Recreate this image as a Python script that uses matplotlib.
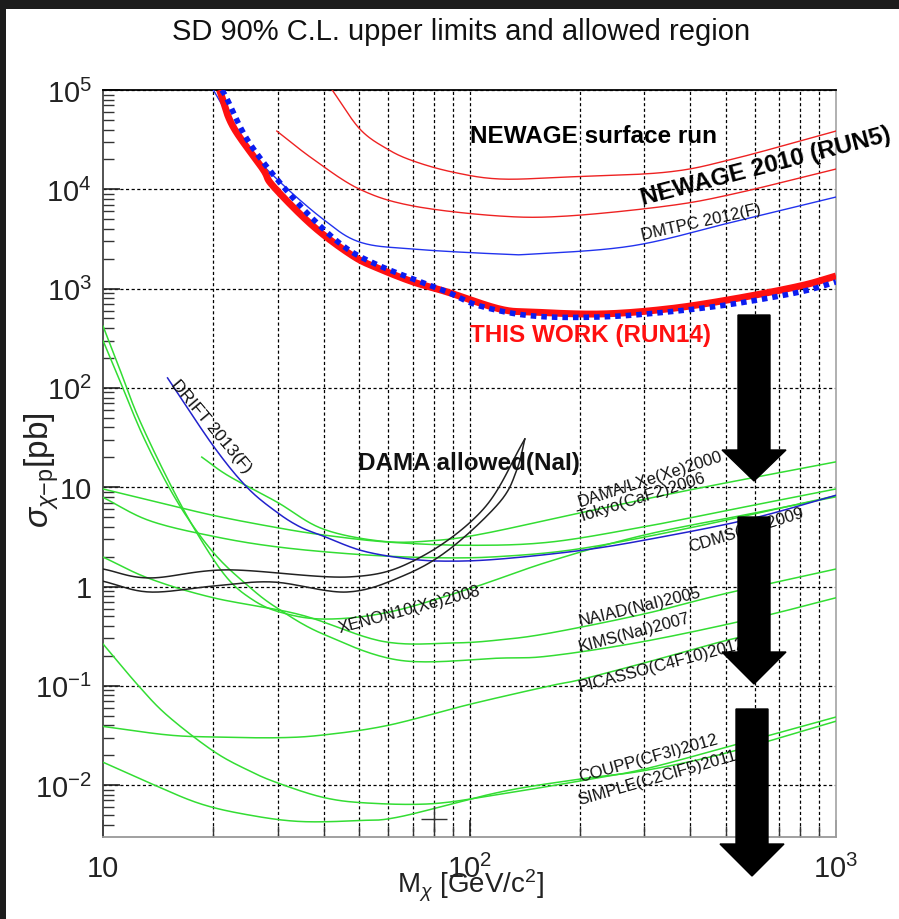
import numpy as np
import matplotlib
matplotlib.use("Agg")
import matplotlib.pyplot as plt
from matplotlib.patches import Rectangle
from matplotlib.ticker import FixedLocator, NullFormatter

plt.rcParams['font.family'] = ['Liberation Sans', 'DejaVu Sans']
plt.rcParams['mathtext.fontset'] = 'custom'
plt.rcParams['mathtext.rm'] = 'Liberation Sans'
plt.rcParams['mathtext.it'] = 'Liberation Sans:italic'

# ---------------- data (mass GeV, cross section pb) ----------------
this_work_x = [20.8, 22.6, 27.3, 29.1, 37.4, 48.1, 57, 70.2, 86.9, 121, 149, 227, 346, 524, 798, 1000]
this_work_y = [1e5, 43300, 16000, 10800, 4270, 2130, 1575, 1166, 925, 623, 581, 555, 623, 785, 1062, 1340]

dotted_x = [21.1, 21.8, 24.7, 29.8, 37.4, 46.4, 57, 70.2, 86.9, 106.8, 149, 227, 346, 524, 798, 1000]
dotted_y = [1e5, 81200, 32100, 12700, 5020, 2510, 1690, 1250, 925, 668, 530, 518, 581, 700, 925, 1165]

newage_surf_x = [42.2, 50.2, 59.6, 70.2, 90, 121, 184.5, 346, 524, 1000]
newage_surf_y = [1e5, 40500, 25500, 19300, 14900, 12700, 13300, 14900, 20200, 38600]

newage2010_x = [29.8, 37.4, 50.2, 70.2, 121, 184.5, 346, 524, 1000]
newage2010_y = [38600, 20200, 10000, 6790, 5380, 5380, 6790, 8970, 16000]

dmtpc_x = [20, 24.7, 29.8, 39.8, 50.2, 70.2, 121, 149, 279, 524, 1000]
dmtpc_y = [1e5, 27300, 12700, 5020, 2940, 2500, 2230, 2230, 2700, 4690, 8360]

drift_x = [15, 20, 24.7, 29.8, 34.5, 39.8, 51.2, 68.9, 88.4, 121, 200, 311, 582, 1000]
drift_y = [126, 26, 10, 5.6, 3.98, 3.23, 2.28, 1.89, 1.80, 1.89, 2.3, 3.0, 4.78, 8.3]

dama_upper_x = [10, 13.4, 21.8, 47.2, 71.9, 109, 141.6]
dama_upper_y = [1.5, 1.22, 1.47, 1.25, 1.89, 6.0, 30.6]
dama_lower_x = [10, 13.4, 20, 29.1, 46.3, 65.9, 88.4, 121, 134.8, 141.6]
dama_lower_y = [1.13, 0.88, 1.01, 1.11, 0.88, 1.28, 2.39, 7.1, 15.2, 30.6]

damalxe_x = [18.6, 22, 29.8, 39.8, 58, 80, 109, 200, 400, 1000]
damalxe_y = [20.1, 13, 7.1, 3.8, 2.85, 2.9, 3.4, 5.5, 9.4, 18]

tokyo_x = [10, 13.4, 20, 30, 40, 60, 100, 166, 300, 500, 1000]
tokyo_y = [9.6, 7.4, 5.2, 3.9, 3.3, 2.8, 2.6, 2.8, 4.0, 5.8, 9.6]

cdms_x = [10, 13.4, 20, 30, 50, 80, 120, 200, 400, 1000]
cdms_y = [7.9, 4.6, 3.2, 2.5, 2.1, 1.95, 2.0, 2.4, 3.9, 8.2]

xenon_x = [10, 11, 12.5, 15.2, 18, 21.5, 25, 30, 40, 60, 100, 166, 300, 600, 1000]
xenon_y = [420, 170, 50, 11, 3.5, 1.3, 0.78, 0.56, 0.47, 0.55, 0.95, 1.8, 3.3, 5.5, 8.0]

kims_x = [10, 11, 13, 16, 20, 25, 30, 40, 65, 121, 166, 300, 600, 1000]
kims_y = [300, 130, 30, 7, 2.2, 1.0, 0.6, 0.33, 0.18, 0.19, 0.2, 0.28, 0.48, 0.77]

naiad_x = [10, 13.4, 20, 34.5, 58, 90, 121, 166, 300, 500, 1000]
naiad_y = [1.98, 1.2, 0.77, 0.52, 0.28, 0.27, 0.29, 0.34, 0.53, 0.85, 1.5]

picasso_x = [10, 15, 20, 30, 40, 60, 100, 166, 200, 300, 490, 600]
picasso_y = [0.039, 0.032, 0.0305, 0.030, 0.032, 0.04, 0.065, 0.1, 0.115, 0.17, 0.28, 0.33]

coupp_x = [10, 12.5, 15, 20, 25, 30, 40, 52.6, 79.4, 121, 200, 300, 500, 1000]
coupp_y = [0.264, 0.1, 0.05, 0.022, 0.014, 0.0105, 0.0075, 0.0066, 0.0065, 0.0081, 0.011, 0.0145, 0.024, 0.0485]

simple_x = [10, 13.4, 18.4, 25, 34.5, 50, 64.6, 121, 200, 300, 500, 1000]
simple_y = [0.017, 0.0105, 0.0065, 0.005, 0.0043, 0.0044, 0.0048, 0.0085, 0.0115, 0.014, 0.021, 0.044]

cross_mark = (80, 0.0046)

# tick labels
x_ticks = [10, 100, 1000]
x_ticklabels = ['10', r'$10^{2}$', r'$10^{3}$']
y_ticks = [1e-2, 1e-1, 1, 10, 1e2, 1e3, 1e4, 1e5]
y_ticklabels = [r'$10^{-2}$', r'$10^{-1}$', '1', '10', r'$10^{2}$', r'$10^{3}$', r'$10^{4}$', r'$10^{5}$']


def smooth(xs, ys, n=20):
    """Catmull-Rom curve through the read points, in log-log space (drawing only)."""
    P = np.column_stack([np.log10(xs), np.log10(ys)])
    if len(P) < 3:
        return xs, ys
    P = np.vstack([2 * P[0] - P[1], P, 2 * P[-1] - P[-2]])
    t = np.linspace(0, 1, n, endpoint=False)[:, None]
    out = []
    for i in range(1, len(P) - 2):
        p0, p1, p2, p3 = P[i - 1], P[i], P[i + 1], P[i + 2]
        seg = 0.5 * (2 * p1 + (-p0 + p2) * t + (2 * p0 - 5 * p1 + 4 * p2 - p3) * t ** 2
                     + (-p0 + 3 * p1 - 3 * p2 + p3) * t ** 3)
        out.append(seg)
    out.append(P[-2][None, :])
    out = np.vstack(out)
    return 10 ** out[:, 0], 10 ** out[:, 1]


# ---------------- figure ----------------
W, H = 899, 920
fig = plt.figure(figsize=(W / 100, H / 100), dpi=100)
fig.patch.set_facecolor('#1c1c1c')
fig.patches.append(Rectangle((6 / W, 0), 1, 1 - 10 / H, transform=fig.transFigure,
                             facecolor='white', edgecolor='none', zorder=-10))

L, R, T, B = 103, 836, 91, 838
ax = fig.add_axes([L / W, 1 - B / H, (R - L) / W, (B - T) / H])
ax.set_xscale('log')
ax.set_yscale('log')
ax.set_xlim(10, 1000)
ax.set_ylim(10 ** (5 - (B - T) / 99.3), 1e5)

# grid
minor_x = [v * d for d in (10, 100) for v in range(2, 10)] + [100]
for xv in minor_x:
    ax.axvline(xv, color='black', lw=0.9, ls=(0, (2.5, 2.0)), zorder=1)
for yv in y_ticks:
    ax.axhline(yv, color='black', lw=0.9, ls=(0, (2.5, 2.0)), zorder=1)

green = '#33dd33'
gkw = dict(color=green, lw=1.1, zorder=3)
for xs, ys in [(damalxe_x, damalxe_y), (tokyo_x, tokyo_y), (cdms_x, cdms_y),
               (xenon_x, xenon_y), (naiad_x, naiad_y), (kims_x, kims_y),
               (picasso_x, picasso_y), (coupp_x, coupp_y), (simple_x, simple_y)]:
    ax.plot(*smooth(xs, ys), **gkw)

ax.plot(*smooth(drift_x, drift_y), color='#2222cc', lw=1.1, zorder=4)
ax.plot(*smooth(dmtpc_x, dmtpc_y), color='#2233ee', lw=1.0, zorder=4)
ax.plot(*smooth(newage_surf_x, newage_surf_y), color='#ee2222', lw=1.0, zorder=4)
ax.plot(*smooth(newage2010_x, newage2010_y), color='#ee2222', lw=1.0, zorder=4)
ax.plot(*smooth(dama_upper_x, dama_upper_y), color='#222222', lw=1.1, zorder=4)
ax.plot(*smooth(dama_lower_x, dama_lower_y), color='#222222', lw=1.1, zorder=4)
ax.plot(*smooth(this_work_x, this_work_y), color='#ff1010', lw=5.0, zorder=5, solid_capstyle='butt')
ax.plot(*smooth(dotted_x, dotted_y), color='#0b1cf0', lw=4.0, ls=(0, (1.0, 0.9)), zorder=6)
ax.plot([cross_mark[0]], [cross_mark[1]], marker='+', ms=19, mew=1.0, color='#333333', zorder=6)

# ticks
ax.xaxis.set_major_locator(FixedLocator(x_ticks))
ax.xaxis.set_minor_locator(FixedLocator(minor_x[:-1]))
ax.yaxis.set_major_locator(FixedLocator(y_ticks))
ax.yaxis.set_minor_locator(FixedLocator([m * 10.0 ** e for e in range(-3, 5) for m in range(2, 10)]))
ax.xaxis.set_minor_formatter(NullFormatter())
ax.yaxis.set_minor_formatter(NullFormatter())
ax.set_xticklabels(x_ticklabels)
ax.set_yticklabels(y_ticklabels)
ax.tick_params(which='major', direction='in', length=12, width=1.2, color='#222222',
               labelsize=21, top=False, right=False)
ax.tick_params(which='minor', direction='in', length=8, width=1.0, color='#333333',
               top=False, right=False)
ax.tick_params(axis='x', pad=12)
ax.tick_params(axis='y', pad=8)
for lab in ax.get_xticklabels() + ax.get_yticklabels():
    lab.set_color('#222222')

ax.spines['top'].set_color('black')
ax.spines['left'].set_color('#444444')
ax.spines['bottom'].set_color('#999999')
ax.spines['right'].set_color('#aaaaaa')
for s in ax.spines.values():
    s.set_linewidth(1.3)

fig.text(470 / W, 1 - 886 / H, r'M$_{\chi}$ [GeV/c$^{2}$]', ha='center', va='center',
         fontsize=20, color='#222222')
fig.text(42 / W, 1 - 470 / H, r'$\sigma_{\chi\mathrm{-p}}$[pb]', ha='center', va='center',
         rotation=90, fontsize=24, color='#222222')

fig.text(461 / W, 1 - 32 / H, 'SD 90% C.L. upper limits and allowed region',
         ha='center', va='center', fontsize=21, color='#111111')

# annotations (data-space anchor of each label, left/baseline)
tk = dict(transform=ax.transData, zorder=8, rotation_mode='anchor', ha='left', va='baseline')
big = 17.5
small = 12
ax.text(100, 30000, 'NEWAGE surface run', fontsize=big, fontweight='bold', color='black', **tk)
ax.text(297, 7110, 'NEWAGE 2010 (RUN5)', fontsize=big, fontweight='bold', color='black',
        rotation=14.5, clip_on=False, **tk)
ax.text(297, 3160, 'DMTPC 2012(F)', fontsize=small, color='#111111', rotation=12.5, **tk)
ax.text(100, 296, 'THIS WORK (RUN14)', fontsize=big, fontweight='bold', color='#ff1010', **tk)
ax.text(15.3, 110, 'DRIFT 2013(F)', fontsize=12.5, color='#111111', rotation=-50, **tk)
ax.text(49.7, 15.2, 'DAMA allowed(NaI)', fontsize=big, fontweight='bold', color='#111111', **tk)
ax.text(200, 6.47, 'DAMA/LXe(Xe)2000', fontsize=small, color='#111111', rotation=18, **tk)
ax.text(200, 4.57, 'Tokyo(CaF2)2006', fontsize=small, color='#111111', rotation=17.5, **tk)
ax.text(400, 2.27, 'CDMS(Ge)2009', fontsize=small, color='#111111', rotation=17, **tk)
ax.text(44.4, 0.348, 'XENON10(Xe)2008', fontsize=small, color='#111111', rotation=15, **tk)
ax.text(200, 0.41, 'NAIAD(NaI)2005', fontsize=small, color='#111111', rotation=13.5, **tk)
ax.text(200, 0.224, 'KIMS(NaI)2007', fontsize=small, color='#111111', rotation=15, **tk)
ax.text(200, 0.0887, 'PICASSO(C4F10)2012', fontsize=small, color='#111111', rotation=15, **tk)
ax.text(200, 0.011, 'COUPP(CF3I)2012', fontsize=small, color='#111111', rotation=15.5, **tk)
ax.text(200, 0.00646, 'SIMPLE(C2ClF5)2011', fontsize=small, color='#111111', rotation=16, **tk)

# big downward arrows (figure pixel geometry: centre x, shaft top, head start, tip)
arrows = [(754, 316, 451, 482), (754, 518, 653, 685), (752, 710, 845, 877)]
for cx, top, head_start, tip in arrows:
    shaft_w, head_w = 32, 64
    poly = [(cx - shaft_w / 2, top), (cx + shaft_w / 2, top), (cx + shaft_w / 2, head_start),
            (cx + head_w / 2, head_start), (cx, tip), (cx - head_w / 2, head_start),
            (cx - shaft_w / 2, head_start)]
    poly = [(px / W, 1 - py / H) for px, py in poly]
    fig.patches.append(plt.Polygon(poly, closed=True, transform=fig.transFigure,
                                   facecolor='black', edgecolor='black', zorder=20))

fig.savefig('out.png', dpi=100, facecolor=fig.get_facecolor())
